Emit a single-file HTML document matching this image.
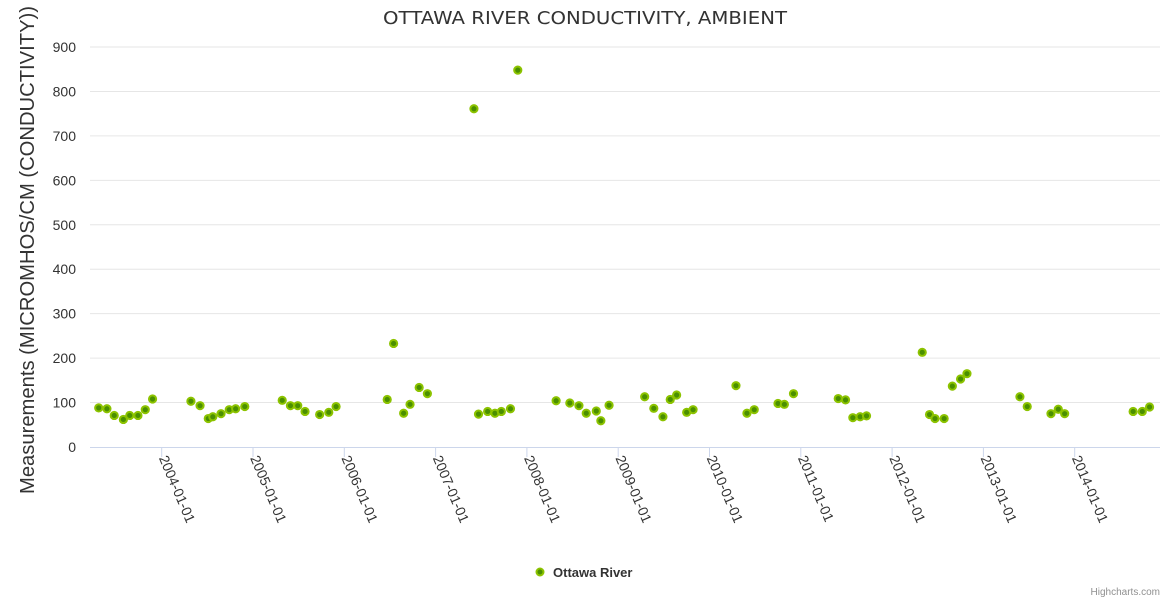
<!DOCTYPE html>
<html><head><meta charset="utf-8"><style>
body{margin:0;background:#fff;}
svg{display:block;font-family:"Liberation Sans","DejaVu Sans",sans-serif;}
</style></head><body>
<svg id="chart" width="1170" height="600">
<text x="585" y="24" text-anchor="middle" font-size="18" fill="#333" textLength="404" lengthAdjust="spacingAndGlyphs" style="font-family:'DejaVu Sans',sans-serif">OTTAWA RIVER CONDUCTIVITY, AMBIENT</text>
<text transform="translate(34,250) rotate(-90)" text-anchor="middle" font-size="20" fill="#333" textLength="488" lengthAdjust="spacingAndGlyphs">Measurements (MICROMHOS/CM (CONDUCTIVITY))</text>
<g id="grid"></g><g id="xaxis"></g><g id="pts"></g>
<g>
<circle cx="540" cy="572" r="3.5" fill="#4a8f00" stroke="#8cc300" stroke-width="2"/>
<text x="553" y="577" font-size="13" font-weight="bold" fill="#333">Ottawa River</text>
</g>
<text x="1160" y="595" text-anchor="end" font-size="10" fill="#909090">Highcharts.com</text>
</svg>
<script>
const yTicks=[0,100,200,300,400,500,600,700,800,900];
const xTickYears=[2004,2005,2006,2007,2008,2009,2010,2011,2012,2013,2014];
const dates=[2003.31,2003.40,2003.48,2003.58,2003.65,2003.74,2003.82,2003.90,
2004.32,2004.42,2004.51,2004.56,2004.65,2004.74,2004.81,2004.91,
2005.32,2005.41,2005.49,2005.57,2005.73,2005.83,2005.91,
2006.47,2006.54,2006.65,2006.72,2006.82,2006.91,
2007.42,2007.47,2007.57,2007.65,2007.72,2007.82,2007.90,
2008.32,2008.47,2008.57,2008.65,2008.76,2008.81,2008.90,
2009.29,2009.39,2009.49,2009.57,2009.64,2009.75,2009.82,
2010.29,2010.41,2010.49,2010.75,2010.82,2010.92,
2011.41,2011.49,2011.57,2011.65,2011.72,
2012.33,2012.41,2012.47,2012.57,2012.66,2012.75,2012.82,
2013.40,2013.48,2013.74,2013.82,2013.89,
2014.64,2014.74,2014.82];
const values=[88,86,71,62,71,71,84,108,
103,93,64,68,75,84,86,91,
105,93,93,80,73,78,91,
107,233,76,96,134,120,
761,74,80,76,80,86,848,
104,99,93,76,81,59,94,
113,87,68,107,117,78,84,
138,76,84,98,96,120,
109,106,66,68,70,
213,73,64,64,137,153,165,
113,91,75,85,75,
80,80,90];
const NS='http://www.w3.org/2000/svg';
const X0=90,X1=1160,Y0=447,Y1=47;
const xs=yr=>161.7+(yr-2004)*91.3;
const ys=v=>Y0-(v/900)*(Y0-Y1);
function mk(t,a,p){const e=document.createElementNS(NS,t);for(const k in a)e.setAttribute(k,a[k]);p.appendChild(e);return e;}
const grid=document.getElementById('grid'),xa=document.getElementById('xaxis'),pts=document.getElementById('pts');
yTicks.forEach(v=>{
 if(v>0){const l=mk('line',{x1:X0,x2:X1,y1:ys(v),y2:ys(v),stroke:'#e6e6e6'},grid);
 
 }
 const t=mk('text',{x:76,y:ys(v)+5,'text-anchor':'end','font-size':14,fill:'#333'},grid);t.textContent=v;
 
 
});
const ax=mk('line',{x1:X0,x2:X1,y1:Y0+0.5,y2:Y0+0.5,stroke:'#ccd6eb'},xa);


xTickYears.forEach(y=>{
 const x=xs(y);
 const tk=mk('line',{x1:x,x2:x,y1:Y0,y2:Y0+10,stroke:'#ccd6eb'},xa);
 
 
 const t=mk('text',{transform:`translate(${x-3},${Y0+11}) rotate(67)`,'font-size':14,fill:'#333'},xa);
 t.textContent=y+'-01-01';
 
 
});
dates.forEach((d,i)=>{
 const c=mk('circle',{cx:xs(d),cy:ys(values[i]),r:3.6,fill:'#4a8f00',stroke:'#8cc300','stroke-width':2},pts);
 
 
});
</script>
</body></html>
